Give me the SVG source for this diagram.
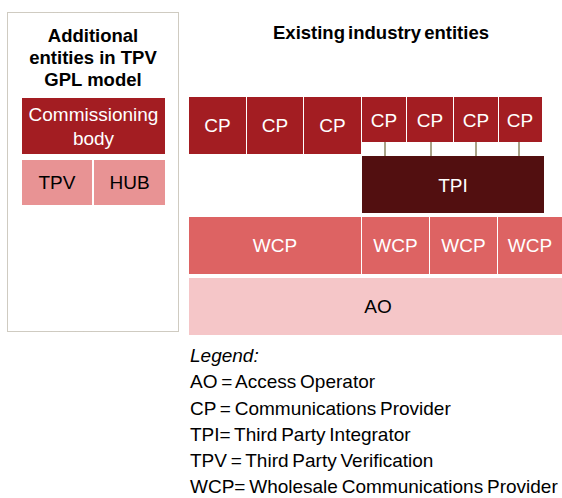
<svg xmlns="http://www.w3.org/2000/svg" width="562" height="498" viewBox="0 0 562 498">
<style>
.t{font-family:"Liberation Sans",Arial,sans-serif;font-size:19px;text-anchor:middle}
.w{fill:#ffffff}
.k{fill:#000000}
.b{font-family:"Liberation Sans",Arial,sans-serif;font-size:18.5px;font-weight:bold;text-anchor:middle;fill:#000}
.lg{font-family:"Liberation Sans",Arial,sans-serif;font-size:19px;fill:#000;word-spacing:-1.5px}
.cp{fill:#A31D22}
.tpi{fill:#520F10}
.wcp{fill:#DD6363}
.ao{fill:#F5C6C8}
.lt{fill:#E89394}
.cn{stroke:#8C8560;stroke-width:1.5}
</style>
<rect x="7.5" y="12.5" width="171" height="319" fill="#fff" stroke="#9E9682" stroke-width="1" stroke-dasharray="1,1"/>
<text class="b" x="93" y="42">Additional</text>
<text class="b" x="93" y="64">entities in TPV</text>
<text class="b" x="93" y="86">GPL model</text>
<text class="b" x="381" y="39" style="word-spacing:-2px">Existing industry entities</text>
<g id="commissioning"><rect class="cp" x="22" y="98" width="143" height="56"/><text class="t w" x="93.5" y="121">Commissioning</text><text class="t w" x="93.5" y="145">body</text></g>
<g id="tpv"><rect class="lt" x="22" y="160" width="70" height="45"/><text class="t k" x="57" y="189">TPV</text></g>
<g id="hub"><rect class="lt" x="94" y="160" width="71" height="45"/><text class="t k" x="129.5" y="189">HUB</text></g>
<g id="connectors">
<line class="cn" x1="385" y1="142" x2="385" y2="156"/>
<line class="cn" x1="431" y1="142" x2="431" y2="156"/>
<line class="cn" x1="476" y1="142" x2="476" y2="156"/>
<line class="cn" x1="519" y1="142" x2="519" y2="156"/>
</g>
<g id="cp1"><rect class="cp" x="189" y="97" width="57" height="57"/><text class="t w" x="217.5" y="132">CP</text></g>
<g id="cp2"><rect class="cp" x="247" y="97" width="56" height="57"/><text class="t w" x="275" y="132">CP</text></g>
<g id="cp3"><rect class="cp" x="304" y="97" width="57" height="57"/><text class="t w" x="332.5" y="132">CP</text></g>
<g id="cp4"><rect class="cp" x="362" y="97" width="44" height="45"/><text class="t w" x="384" y="127">CP</text></g>
<g id="cp5"><rect class="cp" x="407" y="97" width="46" height="45"/><text class="t w" x="430" y="127">CP</text></g>
<g id="cp6"><rect class="cp" x="454" y="97" width="44" height="45"/><text class="t w" x="476" y="127">CP</text></g>
<g id="cp7"><rect class="cp" x="499" y="97" width="43" height="45"/><text class="t w" x="520" y="127">CP</text></g>
<g id="tpi"><rect class="tpi" x="362" y="156" width="182" height="57"/><text class="t w" x="453" y="192">TPI</text></g>
<g id="wcp1"><rect class="wcp" x="189" y="217" width="172" height="57"/><text class="t w" x="275" y="252">WCP</text></g>
<g id="wcp2"><rect class="wcp" x="362" y="217" width="67" height="57"/><text class="t w" x="395.5" y="252">WCP</text></g>
<g id="wcp3"><rect class="wcp" x="430" y="217" width="67" height="57"/><text class="t w" x="463.5" y="252">WCP</text></g>
<g id="wcp4"><rect class="wcp" x="498" y="217" width="64" height="57"/><text class="t w" x="530" y="252">WCP</text></g>
<g id="ao"><rect class="ao" x="189" y="278" width="373" height="57"/><text class="t k" x="378" y="313">AO</text></g>
<g id="legend">
<text class="lg" x="190" y="362" font-style="italic">Legend:</text>
<text class="lg" x="190" y="388">AO = Access Operator</text>
<text class="lg" x="190" y="415">CP = Communications Provider</text>
<text class="lg" x="190" y="441">TPI= Third Party Integrator</text>
<text class="lg" x="190" y="467">TPV = Third Party Verification</text>
<text class="lg" x="190" y="493">WCP= Wholesale Communications Provider</text>
</g>
</svg>
